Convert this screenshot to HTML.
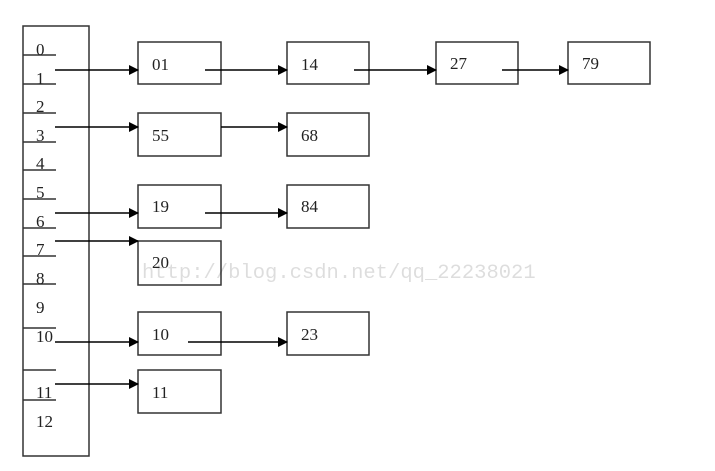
<!DOCTYPE html>
<html><head><meta charset="utf-8"><style>
html,body{margin:0;padding:0;background:#fff;width:715px;height:471px;overflow:hidden}
svg text{font-family:"Liberation Serif",serif;font-size:17px;fill:#222}
</style></head><body>
<svg width="715" height="471" viewBox="0 0 715 471" xmlns="http://www.w3.org/2000/svg">
<defs><marker id="a" markerWidth="10" markerHeight="10" refX="9" refY="5" orient="auto" markerUnits="userSpaceOnUse"><path d="M0,0 L10,5 L0,10 z" fill="#000"/></marker></defs>
<g fill="none" stroke="#333" stroke-width="1.5">
<rect x="23" y="26" width="66" height="430"/>
<path d="M23 55H56M23 84H56M23 113H56M23 142H56M23 170H56M23 199H56M23 228H56M23 256H56M23 284H56M23 328H56M23 370H56M23 400H56"/>
<rect x="138" y="42" width="83" height="42"/>
<rect x="287" y="42" width="82" height="42"/>
<rect x="436" y="42" width="82" height="42"/>
<rect x="568" y="42" width="82" height="42"/>
<rect x="138" y="113" width="83" height="43"/>
<rect x="287" y="113" width="82" height="43"/>
<rect x="138" y="185" width="83" height="43"/>
<rect x="287" y="185" width="82" height="43"/>
<rect x="138" y="241" width="83" height="44"/>
<rect x="138" y="312" width="83" height="43"/>
<rect x="287" y="312" width="82" height="43"/>
<rect x="138" y="370" width="83" height="43"/>
</g>
<g stroke="#000" stroke-width="1.5" marker-end="url(#a)">
<line x1="55" y1="70" x2="138" y2="70"/>
<line x1="205" y1="70" x2="287" y2="70"/>
<line x1="354" y1="70" x2="436" y2="70"/>
<line x1="502" y1="70" x2="568" y2="70"/>
<line x1="55" y1="127" x2="138" y2="127"/>
<line x1="221" y1="127" x2="287" y2="127"/>
<line x1="55" y1="213" x2="138" y2="213"/>
<line x1="205" y1="213" x2="287" y2="213"/>
<line x1="55" y1="241" x2="138" y2="241"/>
<line x1="55" y1="342" x2="138" y2="342"/>
<line x1="188" y1="342" x2="287" y2="342"/>
<line x1="55" y1="384" x2="138" y2="384"/>
</g>
<g>
<text x="36" y="55">0</text><text x="36" y="84">1</text><text x="36" y="112">2</text>
<text x="36" y="141">3</text><text x="36" y="169">4</text><text x="36" y="198">5</text>
<text x="36" y="227">6</text><text x="36" y="255">7</text><text x="36" y="284">8</text>
<text x="36" y="313">9</text><text x="36" y="342">10</text><text x="36" y="398">11</text>
<text x="36" y="427">12</text>
<text x="152" y="70">01</text><text x="301" y="70">14</text><text x="450" y="69">27</text><text x="582" y="69">79</text>
<text x="152" y="141">55</text><text x="301" y="141">68</text>
<text x="152" y="212">19</text><text x="301" y="212">84</text>
<text x="152" y="268">20</text>
<text x="152" y="340">10</text><text x="301" y="340">23</text>
<text x="152" y="398">11</text>
</g>
<text x="142" y="278" style="font-family:'Liberation Mono',monospace;font-size:20.5px;fill:#000;opacity:0.13">http://blog.csdn.net/qq_22238021</text>
</svg>
</body></html>
